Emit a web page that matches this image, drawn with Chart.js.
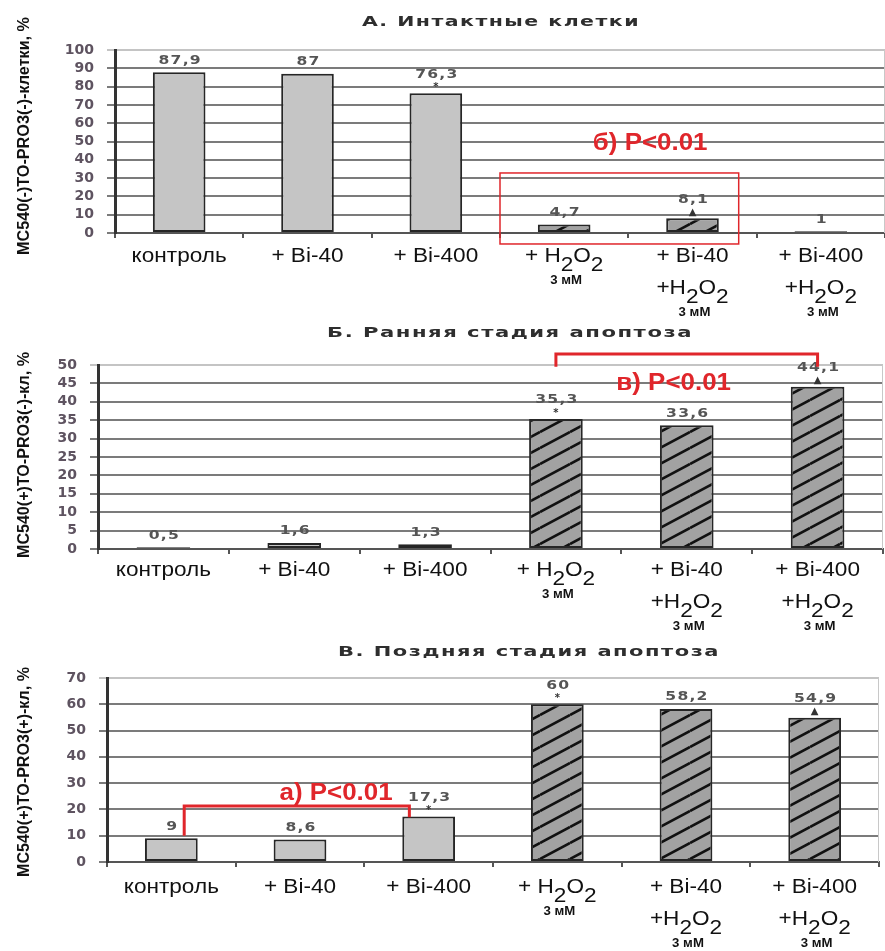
<!DOCTYPE html>
<html>
<head>
<meta charset="utf-8">
<script src="https://cdn.jsdelivr.net/npm/chart.js@4"></script>
<style>
  body { margin: 0; background: #fff; }
  canvas { display: block; }
</style>
</head>
<body>
<canvas id="chartA" width="885" height="320"></canvas>
<canvas id="chartB" width="885" height="315"></canvas>
<canvas id="chartC" width="885" height="316"></canvas>
<script>
// categories, each one a list of label lines
const categories = [
    ['контроль'],
    ['+ Bi-40'],
    ['+ Bi-400'],
    ['+ H2O2', '3 мМ'],
    ['+ Bi-40', '+H2O2', '3 мМ'],
    ['+ Bi-400', '+H2O2', '3 мМ']
];

const intactValues = [87.9, 87, 76.3, 4.7, 8.1, 1];
const earlyValues = [0.5, 1.6, 1.3, 35.3, 33.6, 44.1];
const lateValues = [9, 8.6, 17.3, 60, 58.2, 54.9];

// significance marks printed above the bars
const intactMarks = ['', '', '*', '', '▲', ''];
const earlyMarks = ['', '', '', '*', '', '▲'];
const lateMarks = ['', '', '*', '*', '', '▲'];

const intactTicks = [0, 10, 20, 30, 40, 50, 60, 70, 80, 90, 100];
const earlyTicks = [0, 5, 10, 15, 20, 25, 30, 35, 40, 45, 50];
const lateTicks = [0, 10, 20, 30, 40, 50, 60, 70];

const RED = '#e0262b';
const STRETCH = 1.13; // the source image is a bit wider than tall

function makeHatch() {
    const c = document.createElement('canvas');
    c.width = 30; c.height = 16;
    const g = c.getContext('2d');
    g.fillStyle = '#a2a2a2';
    g.fillRect(0, 0, 30, 16);
    g.strokeStyle = '#111';
    g.lineWidth = 2.6;
    g.beginPath();
    [-16, 0, 16].forEach(d => { g.moveTo(0, 16 + d); g.lineTo(30, d); });
    g.stroke();
    return g.createPattern(c, 'repeat');
}
const hatch = makeHatch();

// centred text, stretched a little sideways
function wideText(ctx, text, cx, cy, sx) {
    ctx.save();
    ctx.translate(cx, cy);
    ctx.scale(sx, 1);
    ctx.textAlign = 'center';
    ctx.fillText(text, 0, 0);
    ctx.restore();
}

// draws "H2O2" with lowered 2s
function drawRich(ctx, text, cx, cy, font) {
    const parts = [];
    text.split(/(H2O2)/).forEach(p => {
        if (p === 'H2O2') parts.push(['H', 0], ['2', 1], ['O', 0], ['2', 1]);
        else if (p) parts.push([p, 0]);
    });
    ctx.save();
    ctx.font = font;
    ctx.translate(cx, cy);
    ctx.scale(STRETCH, 1);
    const total = parts.reduce((s, p) => s + ctx.measureText(p[0]).width, 0);
    let xx = -total / 2;
    ctx.textAlign = 'left';
    parts.forEach(p => {
        ctx.fillText(p[0], xx, p[1] ? 9 : 0);
        xx += ctx.measureText(p[0]).width;
    });
    ctx.restore();
}

const panelPlugin = {
    id: 'panel',
    afterDraw(chart, args, o) {
        const { ctx, chartArea: a, scales: { x, y } } = chart;
        ctx.save();
        ctx.textBaseline = 'middle';

        // light frame on the right, as in the source
        ctx.strokeStyle = '#c8c8c8';
        ctx.lineWidth = 1;
        ctx.beginPath();
        ctx.moveTo(a.right - 0.5, a.top);
        ctx.lineTo(a.right - 0.5, a.bottom);
        ctx.stroke();

        // title
        ctx.font = 'bold 14px "DejaVu Sans"';
        ctx.letterSpacing = '1px';
        ctx.fillStyle = '#2e2e2e';
        wideText(ctx, o.title, o.titleX, o.titleY, o.titleLen / ctx.measureText(o.title).width);
        ctx.letterSpacing = '0px';

        // y axis title
        ctx.save();
        ctx.translate(25, o.yTitleY);
        ctx.rotate(-Math.PI / 2);
        ctx.font = 'bold 16px "Liberation Sans Narrow", "Liberation Sans"';
        const w = ctx.measureText(o.yTitle).width;
        ctx.scale(o.yTitleLen / w, 1);
        ctx.fillStyle = '#111';
        ctx.textAlign = 'center';
        ctx.fillText(o.yTitle, 0, 0);
        ctx.restore();

        // value labels and marks
        const data = chart.data.datasets[0].data;
        chart.getDatasetMeta(0).data.forEach((bar, i) => {
            const mark = o.marks[i];
            ctx.font = 'bold 13px "DejaVu Sans"';
            ctx.letterSpacing = '1px';
            ctx.fillStyle = '#555';
            wideText(ctx, String(data[i]).replace('.', ','), bar.x + 1, bar.y - (mark ? 19 : 12), 1.2);
            ctx.letterSpacing = '0px';
            if (mark) {
                ctx.font = 'bold 10px "DejaVu Sans"';
                ctx.fillStyle = '#333';
                wideText(ctx, mark, bar.x, bar.y - 6, 1);
            }
        });

        // category labels
        ctx.fillStyle = '#111';
        chart.data.labels.forEach((lines, i) => {
            const cx = x.getPixelForValue(i);
            let cy = a.bottom + o.labelOffset;
            lines.forEach((line, k) => {
                if (k > 0) cy += line === '3 мМ' ? 25 : 32;
                if (line === '3 мМ') {
                    ctx.font = 'bold 12px "Liberation Sans Narrow", "Liberation Sans"';
                    wideText(ctx, line, cx + 2, cy, 1.1);
                } else {
                    drawRich(ctx, line, cx, cy, '20px "Liberation Sans"');
                }
            });
        });

        // significance annotations
        ctx.strokeStyle = RED;
        ctx.fillStyle = RED;
        o.notes.forEach(n => {
            if (n.type === 'box') {
                ctx.lineWidth = 1.5;
                const x0 = x.getPixelForValue(n.x0), x1 = x.getPixelForValue(n.x1);
                const y0 = y.getPixelForValue(n.y0), y1 = y.getPixelForValue(n.y1);
                ctx.strokeRect(x0, y0, x1 - x0, y1 - y0);
            } else if (n.type === 'bracket') {
                ctx.lineWidth = 3;
                ctx.beginPath();
                ctx.moveTo(x.getPixelForValue(n.x0), y.getPixelForValue(n.left));
                ctx.lineTo(x.getPixelForValue(n.x0), y.getPixelForValue(n.top));
                ctx.lineTo(x.getPixelForValue(n.x1), y.getPixelForValue(n.top));
                ctx.lineTo(x.getPixelForValue(n.x1), y.getPixelForValue(n.right));
                ctx.stroke();
            } else {
                ctx.font = 'bold 24px "Liberation Sans"';
                wideText(ctx, n.text, x.getPixelForValue(n.x), y.getPixelForValue(n.y), 1.08);
            }
        });
        ctx.restore();
    }
};

function panel(id, values, ticks, box, extra) {
    const max = ticks[ticks.length - 1];
    const canvas = document.getElementById(id);
    new Chart(canvas, {
        type: 'bar',
        data: {
            labels: categories,
            datasets: [{
                data: values,
                backgroundColor: values.map((v, i) => i >= 3 ? hatch : '#c5c5c5'),
                borderColor: '#262626',
                borderWidth: 2,
                borderSkipped: false,
                barPercentage: 0.41,
                categoryPercentage: 1
            }]
        },
        options: {
            responsive: false,
            animation: false,
            events: [],
            layout: { padding: { top: box.top, right: 885 - box.right, bottom: 0, left: 0 } },
            plugins: {
                legend: { display: false },
                tooltip: { enabled: false },
                panel: extra
            },
            scales: {
                x: {
                    ticks: { display: false },
                    grid: { drawOnChartArea: false, tickLength: 5, color: '#555', lineWidth: 2 },
                    border: { color: '#555', width: 2 },
                    afterFit: s => { s.height = canvas.height - box.bottom; }
                },
                y: {
                    min: 0,
                    max: max,
                    afterBuildTicks: s => { s.ticks = ticks.map(v => ({ value: v })); },
                    ticks: {
                        autoSkip: false,
                        font: { family: 'DejaVu Sans', size: 14, weight: 'bold' },
                        color: '#5e5360',
                        padding: 13
                    },
                    grid: {
                        color: c => c.tick && c.tick.value === max ? '#c4c4c4' : '#7b7b7b',
                        lineWidth: 2,
                        tickLength: 8
                    },
                    border: { color: '#333', width: 3 },
                    afterFit: s => { s.width = box.left; }
                }
            }
        },
        plugins: [panelPlugin]
    });
}

panel('chartA', intactValues, intactTicks,
    { left: 115, right: 885, top: 50, bottom: 233 },
    {
        title: 'А. Интактные клетки', titleX: 501, titleY: 22, titleLen: 278,
        yTitle: 'МС540(-)ТО-PRO3(-)-клетки, %', yTitleY: 136, yTitleLen: 238,
        marks: intactMarks, labelOffset: 23,
        notes: [
            { type: 'box', x0: 2.5, x1: 4.36, y0: 32.8, y1: -6 },
            { type: 'text', text: 'б) P<0.01', x: 3.67, y: 49.2 }
        ]
    });

panel('chartB', earlyValues, earlyTicks,
    { left: 98, right: 883, top: 45, bottom: 229 },
    {
        title: 'Б. Ранняя стадия апоптоза', titleX: 510, titleY: 13, titleLen: 366,
        yTitle: 'МС540(+)ТО-PRO3(-)-кл, %', yTitleY: 135, yTitleLen: 206,
        marks: earlyMarks, labelOffset: 21,
        notes: [
            { type: 'bracket', x0: 3, x1: 5, top: 53, left: 49.5, right: 49.5 },
            { type: 'text', text: 'в) P<0.01', x: 3.9, y: 45.1 }
        ]
    });

panel('chartC', lateValues, lateTicks,
    { left: 107, right: 879, top: 43, bottom: 227 },
    {
        title: 'В. Поздняя стадия апоптоза', titleX: 529, titleY: 17, titleLen: 382,
        yTitle: 'МС540(+)ТО-PRO3(+)-кл, %', yTitleY: 137, yTitleLen: 210,
        marks: lateMarks, labelOffset: 25,
        notes: [
            { type: 'bracket', x0: 0.1, x1: 1.85, top: 21.3, left: 10, right: 17 },
            { type: 'text', text: 'а) P<0.01', x: 1.28, y: 26.2 }
        ]
    });
</script>
</body>
</html>
